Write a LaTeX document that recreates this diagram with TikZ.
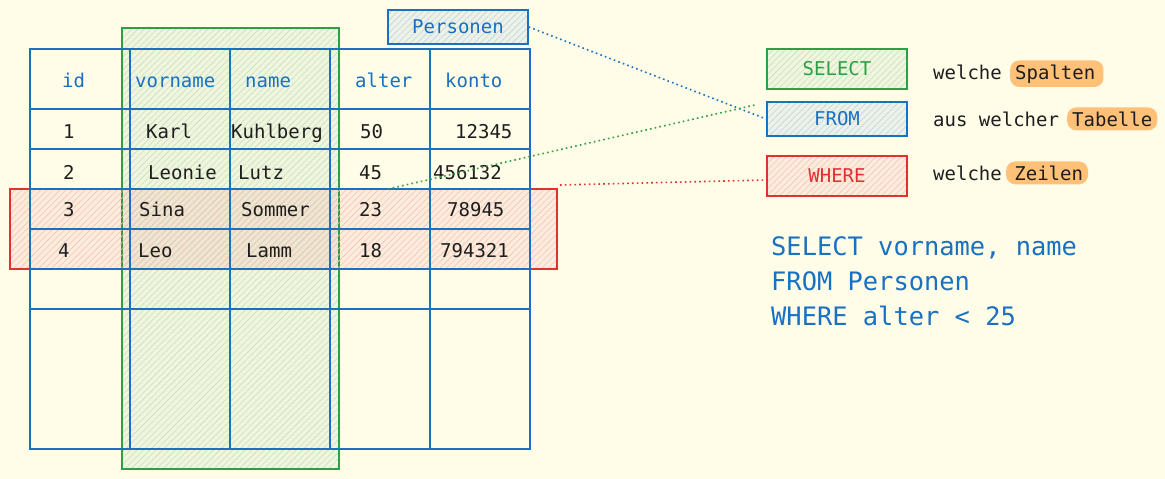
\documentclass[tikz,border=0pt]{standalone}
\usepackage{fontspec}
\setmainfont{DejaVu Sans Mono}
\usetikzlibrary{positioning,patterns.meta}

\definecolor{bgcream}{HTML}{FFFCE8}
\definecolor{ink}{HTML}{1E1E1E}
\definecolor{sqlblue}{HTML}{1971C2}
\definecolor{selgreen}{HTML}{2F9E44}
\definecolor{wherered}{HTML}{E03131}
\definecolor{hlorange}{HTML}{FFC078}

\tikzset{
	cell/.style={anchor=base west, inner sep=0pt, text=ink, font=\fontsize{19}{19}\selectfont},
	head/.style={cell, text=sqlblue},
	hatched/.style={draw=#1, line width=1.5pt,
		preaction={fill=#1, fill opacity=0.07},
		preaction={pattern={Lines[angle=45,distance=4.5pt,line width=0.6pt]}, pattern color=#1!30}},
	keybox/.style={hatched=#1, text=#1, minimum width=140pt, minimum height=40pt,
		inner sep=0pt, font=\fontsize{19}{19}\selectfont},
	hl/.style={fill=hlorange, rounded corners=9pt, inner xsep=5pt, inner ysep=4pt, text=ink,
		font=\fontsize{19}{19}\selectfont},
	link/.style={dash pattern=on 1.6pt off 3.2pt, line width=1.6pt, #1}
}

\begin{document}
\begin{tikzpicture}[x=1pt, y=-1pt]
		%%%%% START %%%%%
		\fill[bgcream] (0, 0) rectangle (1165, 479);
		\useasboundingbox (0, 0) rectangle (1165, 479);
		
		% selected columns and rows
		\draw[hatched=selgreen] (122, 28) rectangle (339, 469);
		\draw[hatched=wherered] (10, 189) rectangle (557, 269);
		\coordinate (rowsright) at (560, 185);
		\coordinate (colsend) at (388, 189);
		
		% table grid
		\draw[sqlblue, line width=1.5pt] (30, 49) rectangle (530, 449);
		\foreach \y in {109, 149, 189, 229, 269, 309}
			\draw[sqlblue, line width=1.5pt] (30, \y) -- (530, \y);
		\foreach \x in {130, 230, 330, 430}
			\draw[sqlblue, line width=1.5pt] (\x, 49) -- (\x, 449);
		
		% header
		\node[head] (hid) at (62, 87) {id};
		\node[head] (hvorname) at (135, 87) {vorname};
		\node[head] (hname) at (245, 87) {name};
		\node[head] (halter) at (355, 87) {alter};
		\node[head] (hkonto) at (445, 87) {konto};
		
		% rows
		\node[cell] (id1) at (63, 138) {1};
		\node[cell] (vn1) at (146, 138) {Karl};
		\node[cell] (nm1) at (231, 138) {Kuhlberg};
		\node[cell] (al1) at (360, 138) {50};
		\node[cell] (kt1) at (455, 138) {12345};
		
		\node[cell] (id2) at (63, 179) {2};
		\node[cell] (vn2) at (148, 179) {Leonie};
		\node[cell] (nm2) at (238, 179) {Lutz};
		\node[cell] (al2) at (359, 179) {45};
		\node[cell] (kt2) at (433, 179) {456132};
		
		\node[cell] (id3) at (63, 216) {3};
		\node[cell] (vn3) at (139, 216) {Sina};
		\node[cell] (nm3) at (241, 216) {Sommer};
		\node[cell] (al3) at (359, 216) {23};
		\node[cell] (kt3) at (447, 216) {78945};
		
		\node[cell] (id4) at (58, 257) {4};
		\node[cell] (vn4) at (138, 257) {Leo};
		\node[cell] (nm4) at (246, 257) {Lamm};
		\node[cell] (al4) at (359, 257) {18};
		\node[cell] (kt4) at (440, 257) {794321};
		
		% table name and keywords
		\node[keybox=sqlblue, minimum height=34pt] (personen) at (458, 27) {Personen};
		\node[keybox=selgreen] (select) at (837, 69) {SELECT};
		\node[keybox=sqlblue, minimum height=34pt] (from) at (837, 119) {FROM};
		\node[keybox=wherered] (where) at (837, 176) {WHERE};
		\coordinate (fromcorner) at (755, 105);
		
		% explanations
		\node[cell] (w1) at (933, 79) {welche};
		\node[hl, anchor=base west] (spalten) at (1010, 79) {Spalten\,};
		\node[cell] (w2) at (933, 126) {aus welcher};
		\node[hl, anchor=base west] (tabelle) at (1067, 126) {Tabelle};
		\node[cell] (w3) at (933, 180) {welche};
		\node[hl, anchor=base west] (zeilen) at (1006, 180) {\,Zeilen};
		
		% dotted links
		\draw[link=sqlblue] (personen.east) -- (from.west);
		\draw[link=selgreen] (colsend) -- (fromcorner);
		\draw[link=wherered] (rowsright) -- ([yshift=-4pt]where.west);
		
		% query
		\node[anchor=base west, inner sep=0pt, align=left, text=sqlblue,
			font=\fontsize{25.4}{35}\selectfont] (query) at (771, 325)
			{SELECT vorname, name\\FROM Personen\\WHERE alter < 25};
		%%%%% END %%%%%
\end{tikzpicture}
\end{document}
